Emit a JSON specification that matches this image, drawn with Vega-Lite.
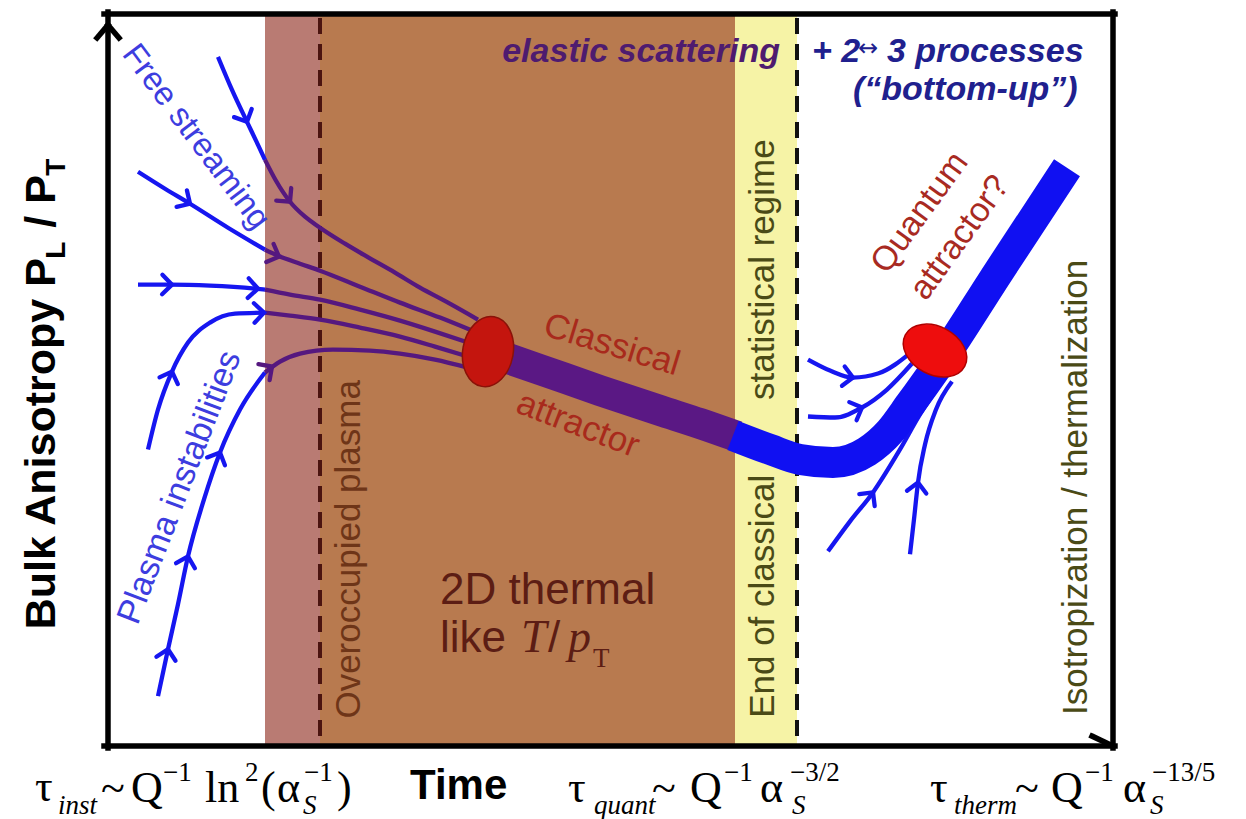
{
 "$schema":"https://vega.github.io/schema/vega-lite/v6.json",
 "width":1246,"height":819,
 "autosize":{"type":"fit","contains":"padding"},
 "padding":0,
 "background":"#ffffff",
 "config":{"view":{"stroke":null}},
 "datasets":{
  "zones":[
   {"zone":"pink","x":265,"x2":320,"y":16,"y2":745},
   {"zone":"brown","x":320,"x2":735,"y":16,"y2":745},
   {"zone":"yellow","x":735,"x2":797,"y":16,"y2":745}
  ],
  "dashes":[
   {"id":"overoccupied","x":320,"y":18,"y2":745},
   {"id":"classical_end","x":797,"y":18,"y2":745}
  ],
  "frame":[
   {"x":104,"y":14,"x2":1115,"y2":14},
   {"x":1113,"y":12,"x2":1113,"y2":749},
   {"x":104,"y":747,"x2":1115,"y2":747},
   {"x":108,"y":12,"x2":108,"y2":749},
   {"x":97,"y":38,"x2":108,"y2":25},
   {"x":108,"y":25,"x2":119,"y2":38},
   {"x":1092,"y":737,"x2":1113,"y2":747}
  ],
  "flows":[
   {"id":"A_b","c":"blue","x":218,"y":57},{"id":"A_b","c":"blue","x":232,"y":90},{"id":"A_b","c":"blue","x":247,"y":122},{"id":"A_b","c":"blue","x":258,"y":145},{"id":"A_b","c":"blue","x":265,"y":160},
   {"id":"A_p","c":"purple","x":265,"y":160},{"id":"A_p","c":"purple","x":276,"y":181},{"id":"A_p","c":"purple","x":290,"y":202},{"id":"A_p","c":"purple","x":305,"y":217},{"id":"A_p","c":"purple","x":320,"y":228},{"id":"A_p","c":"purple","x":345,"y":244},{"id":"A_p","c":"purple","x":367,"y":257},{"id":"A_p","c":"purple","x":395,"y":273},{"id":"A_p","c":"purple","x":420,"y":288},{"id":"A_p","c":"purple","x":448,"y":303},{"id":"A_p","c":"purple","x":478,"y":320},
   {"id":"B_b","c":"blue","x":138,"y":172},{"id":"B_b","c":"blue","x":165,"y":189},{"id":"B_b","c":"blue","x":190,"y":204},{"id":"B_b","c":"blue","x":228,"y":228},{"id":"B_b","c":"blue","x":265,"y":250},
   {"id":"B_p","c":"purple","x":265,"y":250},{"id":"B_p","c":"purple","x":278,"y":256},{"id":"B_p","c":"purple","x":300,"y":264},{"id":"B_p","c":"purple","x":320,"y":271},{"id":"B_p","c":"purple","x":360,"y":287},{"id":"B_p","c":"purple","x":400,"y":303},{"id":"B_p","c":"purple","x":440,"y":318},{"id":"B_p","c":"purple","x":472,"y":331},
   {"id":"C_b","c":"blue","x":138,"y":285},{"id":"C_b","c":"blue","x":170,"y":285},{"id":"C_b","c":"blue","x":210,"y":286},{"id":"C_b","c":"blue","x":255,"y":289},{"id":"C_b","c":"blue","x":265,"y":290},
   {"id":"C_p","c":"purple","x":265,"y":290},{"id":"C_p","c":"purple","x":290,"y":295},{"id":"C_p","c":"purple","x":320,"y":300},{"id":"C_p","c":"purple","x":360,"y":310},{"id":"C_p","c":"purple","x":400,"y":321},{"id":"C_p","c":"purple","x":435,"y":332},{"id":"C_p","c":"purple","x":468,"y":343},
   {"id":"D_b","c":"blue","x":148,"y":450},{"id":"D_b","c":"blue","x":158,"y":410},{"id":"D_b","c":"blue","x":172,"y":372},{"id":"D_b","c":"blue","x":188,"y":343},{"id":"D_b","c":"blue","x":210,"y":323},{"id":"D_b","c":"blue","x":235,"y":314},{"id":"D_b","c":"blue","x":265,"y":313},
   {"id":"D_p","c":"purple","x":265,"y":313},{"id":"D_p","c":"purple","x":290,"y":316},{"id":"D_p","c":"purple","x":320,"y":320},{"id":"D_p","c":"purple","x":360,"y":328},{"id":"D_p","c":"purple","x":400,"y":337},{"id":"D_p","c":"purple","x":435,"y":347},{"id":"D_p","c":"purple","x":468,"y":357},
   {"id":"E_b","c":"blue","x":158,"y":697},{"id":"E_b","c":"blue","x":168,"y":650},{"id":"E_b","c":"blue","x":178,"y":605},{"id":"E_b","c":"blue","x":188,"y":557},{"id":"E_b","c":"blue","x":204,"y":500},{"id":"E_b","c":"blue","x":220,"y":453},{"id":"E_b","c":"blue","x":240,"y":410},{"id":"E_b","c":"blue","x":265,"y":373},
   {"id":"E_p","c":"purple","x":265,"y":373},{"id":"E_p","c":"purple","x":280,"y":362},{"id":"E_p","c":"purple","x":300,"y":354},{"id":"E_p","c":"purple","x":333,"y":350},{"id":"E_p","c":"purple","x":370,"y":351},{"id":"E_p","c":"purple","x":400,"y":354},{"id":"E_p","c":"purple","x":435,"y":360},{"id":"E_p","c":"purple","x":468,"y":368},
   {"id":"R1","c":"blue","x":808,"y":360},{"id":"R1","c":"blue","x":830,"y":371},{"id":"R1","c":"blue","x":853,"y":378},{"id":"R1","c":"blue","x":878,"y":374},{"id":"R1","c":"blue","x":912,"y":352},
   {"id":"R2","c":"blue","x":808,"y":417},{"id":"R2","c":"blue","x":835,"y":418},{"id":"R2","c":"blue","x":862,"y":408},{"id":"R2","c":"blue","x":887,"y":390},{"id":"R2","c":"blue","x":912,"y":364},
   {"id":"R3","c":"blue","x":828,"y":552},{"id":"R3","c":"blue","x":850,"y":522},{"id":"R3","c":"blue","x":873,"y":493},{"id":"R3","c":"blue","x":900,"y":450},{"id":"R3","c":"blue","x":920,"y":415},{"id":"R3","c":"blue","x":942,"y":382},
   {"id":"R4","c":"blue","x":910,"y":555},{"id":"R4","c":"blue","x":914,"y":520},{"id":"R4","c":"blue","x":918,"y":483},{"id":"R4","c":"blue","x":925,"y":445},{"id":"R4","c":"blue","x":936,"y":410},{"id":"R4","c":"blue","x":952,"y":382}
  ],
  "band":[
   {"id":"classical","c":"purple","x":488,"y":352},{"id":"classical","c":"purple","x":540,"y":370},{"id":"classical","c":"purple","x":600,"y":391},{"id":"classical","c":"purple","x":660,"y":411},{"id":"classical","c":"purple","x":700,"y":424},{"id":"classical","c":"purple","x":737,"y":437},
   {"id":"quantum","c":"blue","x":733,"y":436},{"id":"quantum","c":"blue","x":770,"y":450},{"id":"quantum","c":"blue","x":800,"y":460},{"id":"quantum","c":"blue","x":833,"y":463},{"id":"quantum","c":"blue","x":867,"y":452},{"id":"quantum","c":"blue","x":890,"y":432},{"id":"quantum","c":"blue","x":910,"y":405},{"id":"quantum","c":"blue","x":935,"y":370},{"id":"quantum","c":"blue","x":1000,"y":270},{"id":"quantum","c":"blue","x":1067,"y":168}
  ],
  "arrows":[
   {"c":"blue","x":247,"y":122,"dir":65},{"c":"purple","x":290,"y":202,"dir":50},
   {"c":"blue","x":190,"y":204,"dir":32},{"c":"purple","x":279,"y":257,"dir":22},
   {"c":"blue","x":172,"y":285,"dir":1},{"c":"blue","x":258,"y":289,"dir":3},
   {"c":"blue","x":172,"y":372,"dir":-70},{"c":"blue","x":264,"y":313,"dir":-2},
   {"c":"blue","x":168,"y":650,"dir":-78},{"c":"blue","x":188,"y":557,"dir":-75},{"c":"blue","x":220,"y":453,"dir":-66},{"c":"purple","x":272,"y":367,"dir":-35},
   {"c":"blue","x":853,"y":378,"dir":8},{"c":"blue","x":862,"y":408,"dir":-22},{"c":"blue","x":873,"y":493,"dir":-52},{"c":"blue","x":918,"y":483,"dir":-82}
  ],
  "attractors":[
   {"kind":"classical","x":488,"y":352},
   {"kind":"quantum","x":935,"y":351}
  ],
  "labels":[
   {"g":"ytitle","text":"Bulk Anisotropy P","x":55,"y":630},
   {"g":"ytitle","text":"/ P","x":55,"y":228},
   {"g":"ytitleSub","text":"L","x":65,"y":259},
   {"g":"ytitleSub","text":"T","x":65,"y":176},
   {"g":"free","text":"Free streaming","x":196,"y":137},
   {"g":"plasma","text":"Plasma instabilities","x":180,"y":488},
   {"g":"vertBrown","text":"Overoccupied plasma","x":349,"y":550},
   {"g":"vertOlive","text":"statistical regime","x":763,"y":270},
   {"g":"vertOlive","text":"End of classical","x":763,"y":597},
   {"g":"vertOlive","text":"Isotropization / thermalization","x":1076,"y":488},
   {"g":"classical","text":"Classical","x":612,"y":345},
   {"g":"attractorC","text":"attractor","x":578,"y":425},
   {"g":"quantum","text":"Quantum","x":920,"y":213},
   {"g":"quantum","text":"attractor?","x":960,"y":238},
   {"g":"thermal","text":"2D thermal","x":440,"y":605},
   {"g":"thermal","text":"like","x":440,"y":653},
   {"g":"thermal","text":"/","x":548,"y":653},
   {"g":"thermalMath","text":"T","x":521,"y":653},
   {"g":"thermalMath","text":"p","x":568,"y":653},
   {"g":"thermalSub","text":"T","x":593,"y":668},
   {"g":"elastic","text":"elastic scattering","x":780,"y":62},
   {"g":"processes","text":"+ 2","x":812,"y":62},
   {"g":"processes","text":"3 processes","x":887,"y":62},
   {"g":"processes","text":"(\u201cbottom-up\u201d)","x":853,"y":100},
   {"g":"arrowSmall","text":"\u2194","x":858,"y":56},
   {"g":"time","text":"Time","x":410,"y":800},
   {"g":"serifMain","text":"\u03c4","x":35,"y":802},
   {"g":"serifMain","text":"~","x":101,"y":804},
   {"g":"serifMain","text":"Q","x":131,"y":803},
   {"g":"serifMain","text":"ln","x":205,"y":803},
   {"g":"serifMain","text":"(","x":261,"y":803},
   {"g":"serifMain","text":"\u03b1","x":277,"y":803},
   {"g":"serifMain","text":")","x":337,"y":803},
   {"g":"serifMain","text":"\u03c4","x":568,"y":803},
   {"g":"serifMain","text":"~","x":652,"y":804},
   {"g":"serifMain","text":"Q","x":690,"y":803},
   {"g":"serifMain","text":"\u03b1","x":760,"y":803},
   {"g":"serifMain","text":"\u03c4","x":930,"y":803},
   {"g":"serifMain","text":"~","x":1015,"y":804},
   {"g":"serifMain","text":"Q","x":1051,"y":803},
   {"g":"serifMain","text":"\u03b1","x":1123,"y":803},
   {"g":"serifSub","text":"inst","x":58,"y":815},
   {"g":"serifSub","text":"S","x":303,"y":815},
   {"g":"serifSub","text":"quant","x":594,"y":815},
   {"g":"serifSub","text":"S","x":792,"y":815},
   {"g":"serifSub","text":"therm","x":954,"y":815},
   {"g":"serifSub","text":"S","x":1150,"y":815},
   {"g":"serifSup","text":"\u22121","x":163,"y":782},
   {"g":"serifSup","text":"2","x":245,"y":782},
   {"g":"serifSup","text":"\u22121","x":304,"y":782},
   {"g":"serifSup","text":"\u22121","x":724,"y":782},
   {"g":"serifSup","text":"\u22123/2","x":790,"y":782},
   {"g":"serifSup","text":"\u22121","x":1085,"y":782},
   {"g":"serifSup","text":"\u221213/5","x":1152,"y":782}
  ]
 },
 "encoding":{
  "x":{"field":"x","type":"quantitative","scale":{"domain":[0,1246],"nice":false,"zero":false},"axis":null},
  "y":{"field":"y","type":"quantitative","scale":{"domain":[0,819],"reverse":true,"nice":false,"zero":false},"axis":null}
 },
 "resolve":{"scale":{"color":"independent"}},
 "layer":[
  {"data":{"name":"zones"},"mark":{"type":"rect"},
   "encoding":{"x2":{"field":"x2"},"y2":{"field":"y2"},
    "color":{"field":"zone","type":"nominal","scale":{"domain":["pink","brown","yellow"],"range":["#b97b73","#b87a4f","#f6f3a6"]},"legend":null}}},
  {"data":{"name":"dashes"},"mark":{"type":"rule","strokeWidth":4,"strokeDash":[16,10]},
   "encoding":{"y2":{"field":"y2"},
    "color":{"field":"id","type":"nominal","scale":{"domain":["overoccupied","classical_end"],"range":["#4b1410","#111111"]},"legend":null}}},
  {"data":{"name":"frame"},"mark":{"type":"rule","strokeWidth":5.5,"color":"#000000","strokeCap":"square"},
   "encoding":{"x2":{"field":"x2"},"y2":{"field":"y2"}}},
  {"data":{"name":"flows"},"mark":{"type":"line","interpolate":"monotone","strokeWidth":4.3},
   "encoding":{"detail":{"field":"id"},
    "color":{"field":"c","type":"nominal","scale":{"domain":["blue","purple"],"range":["#1616f0","#55187f"]},"legend":null}}},
  {"data":{"name":"band"},"mark":{"type":"line","interpolate":"monotone","strokeWidth":31,"strokeCap":"butt","strokeJoin":"round"},
   "encoding":{"detail":{"field":"id"},
    "color":{"field":"c","type":"nominal","scale":{"domain":["purple","blue"],"range":["#5a1884","#1010f2"]},"legend":null}}},
  {"data":{"name":"arrows"},"mark":{"type":"point","shape":"M-1,-1L0,0L-1,1","filled":false,"size":380,"strokeWidth":4.3,"opacity":1,"strokeCap":"round"},
   "encoding":{"angle":{"field":"dir","type":"quantitative","scale":null},
    "color":{"field":"c","type":"nominal","scale":{"domain":["blue","purple"],"range":["#1616f0","#55187f"]},"legend":null}}},
  {"data":{"name":"attractors"},"transform":[{"filter":"datum.kind==='classical'"}],
   "mark":{"type":"point","shape":"M-1,0A1,1.4 0 1,0 1,0A1,1.4 0 1,0 -1,0Z","filled":true,"size":2550,"angle":10,"color":"#c4150e","stroke":"#8a1208","strokeWidth":1.5,"opacity":1}},
  {"data":{"name":"attractors"},"transform":[{"filter":"datum.kind==='quantum'"}],
   "mark":{"type":"point","shape":"M-1,0A1,1.4 0 1,0 1,0A1,1.4 0 1,0 -1,0Z","filled":true,"size":2304,"angle":-62,"color":"#ee0d0d","stroke":"#b00000","strokeWidth":1.5,"opacity":1}},
  {"data":{"name":"labels"},"transform":[{"filter":"datum.g==='ytitle'"}],
   "mark":{"type":"text","angle":-90,"align":"left","baseline":"alphabetic","font":"Liberation Sans","fontSize":43,"fontWeight":"bold","color":"#000000"},
   "encoding":{"text":{"field":"text"}}},
  {"data":{"name":"labels"},"transform":[{"filter":"datum.g==='ytitleSub'"}],
   "mark":{"type":"text","angle":-90,"align":"left","baseline":"alphabetic","font":"Liberation Sans","fontSize":28,"fontWeight":"bold","color":"#000000"},
   "encoding":{"text":{"field":"text"}}},
  {"data":{"name":"labels"},"transform":[{"filter":"datum.g==='free'"}],
   "mark":{"type":"text","angle":53,"align":"center","baseline":"middle","font":"Liberation Sans","fontSize":33,"color":"#3d3ddf"},
   "encoding":{"text":{"field":"text"}}},
  {"data":{"name":"labels"},"transform":[{"filter":"datum.g==='plasma'"}],
   "mark":{"type":"text","angle":-69,"align":"center","baseline":"middle","font":"Liberation Sans","fontSize":34,"color":"#3d3ddf"},
   "encoding":{"text":{"field":"text"}}},
  {"data":{"name":"labels"},"transform":[{"filter":"datum.g==='vertBrown'"}],
   "mark":{"type":"text","angle":-90,"align":"center","baseline":"middle","font":"Liberation Sans","fontSize":35,"color":"#6e3518"},
   "encoding":{"text":{"field":"text"}}},
  {"data":{"name":"labels"},"transform":[{"filter":"datum.g==='vertOlive'"}],
   "mark":{"type":"text","angle":-90,"align":"center","baseline":"middle","font":"Liberation Sans","fontSize":35,"color":"#4a4a16"},
   "encoding":{"text":{"field":"text"}}},
  {"data":{"name":"labels"},"transform":[{"filter":"datum.g==='classical'"}],
   "mark":{"type":"text","angle":17,"align":"center","baseline":"middle","font":"Liberation Sans","fontSize":35,"color":"#a82a1c"},
   "encoding":{"text":{"field":"text"}}},
  {"data":{"name":"labels"},"transform":[{"filter":"datum.g==='attractorC'"}],
   "mark":{"type":"text","angle":21,"align":"center","baseline":"middle","font":"Liberation Sans","fontSize":35,"color":"#a82a1c"},
   "encoding":{"text":{"field":"text"}}},
  {"data":{"name":"labels"},"transform":[{"filter":"datum.g==='quantum'"}],
   "mark":{"type":"text","angle":-54,"align":"center","baseline":"middle","font":"Liberation Sans","fontSize":34,"color":"#a82a22"},
   "encoding":{"text":{"field":"text"}}},
  {"data":{"name":"labels"},"transform":[{"filter":"datum.g==='thermal'"}],
   "mark":{"type":"text","align":"left","baseline":"alphabetic","font":"Liberation Sans","fontSize":44,"color":"#5c1d14"},
   "encoding":{"text":{"field":"text"}}},
  {"data":{"name":"labels"},"transform":[{"filter":"datum.g==='thermalMath'"}],
   "mark":{"type":"text","align":"left","baseline":"alphabetic","font":"Liberation Serif","fontStyle":"italic","fontSize":46,"color":"#5c1d14"},
   "encoding":{"text":{"field":"text"}}},
  {"data":{"name":"labels"},"transform":[{"filter":"datum.g==='thermalSub'"}],
   "mark":{"type":"text","align":"left","baseline":"alphabetic","font":"Liberation Serif","fontSize":27,"color":"#5c1d14"},
   "encoding":{"text":{"field":"text"}}},
  {"data":{"name":"labels"},"transform":[{"filter":"datum.g==='elastic'"}],
   "mark":{"type":"text","align":"right","baseline":"alphabetic","font":"Liberation Sans","fontSize":34,"fontWeight":"bold","fontStyle":"italic","color":"#4e1b6f"},
   "encoding":{"text":{"field":"text"}}},
  {"data":{"name":"labels"},"transform":[{"filter":"datum.g==='processes'"}],
   "mark":{"type":"text","align":"left","baseline":"alphabetic","font":"Liberation Sans","fontSize":34,"fontWeight":"bold","fontStyle":"italic","color":"#20208e"},
   "encoding":{"text":{"field":"text"}}},
  {"data":{"name":"labels"},"transform":[{"filter":"datum.g==='arrowSmall'"}],
   "mark":{"type":"text","align":"left","baseline":"alphabetic","font":"DejaVu Sans","fontSize":24,"color":"#20208e"},
   "encoding":{"text":{"field":"text"}}},
  {"data":{"name":"labels"},"transform":[{"filter":"datum.g==='time'"}],
   "mark":{"type":"text","align":"left","baseline":"alphabetic","font":"Liberation Sans","fontSize":42,"fontWeight":"bold","color":"#000000"},
   "encoding":{"text":{"field":"text"}}},
  {"data":{"name":"labels"},"transform":[{"filter":"datum.g==='serifMain'"}],
   "mark":{"type":"text","align":"left","baseline":"alphabetic","font":"Liberation Serif","fontSize":44,"color":"#000000"},
   "encoding":{"text":{"field":"text"}}},
  {"data":{"name":"labels"},"transform":[{"filter":"datum.g==='serifSub'"}],
   "mark":{"type":"text","align":"left","baseline":"alphabetic","font":"Liberation Serif","fontStyle":"italic","fontSize":27,"color":"#000000"},
   "encoding":{"text":{"field":"text"}}},
  {"data":{"name":"labels"},"transform":[{"filter":"datum.g==='serifSup'"}],
   "mark":{"type":"text","align":"left","baseline":"alphabetic","font":"Liberation Serif","fontSize":27,"color":"#000000"},
   "encoding":{"text":{"field":"text"}}}
 ]
}
